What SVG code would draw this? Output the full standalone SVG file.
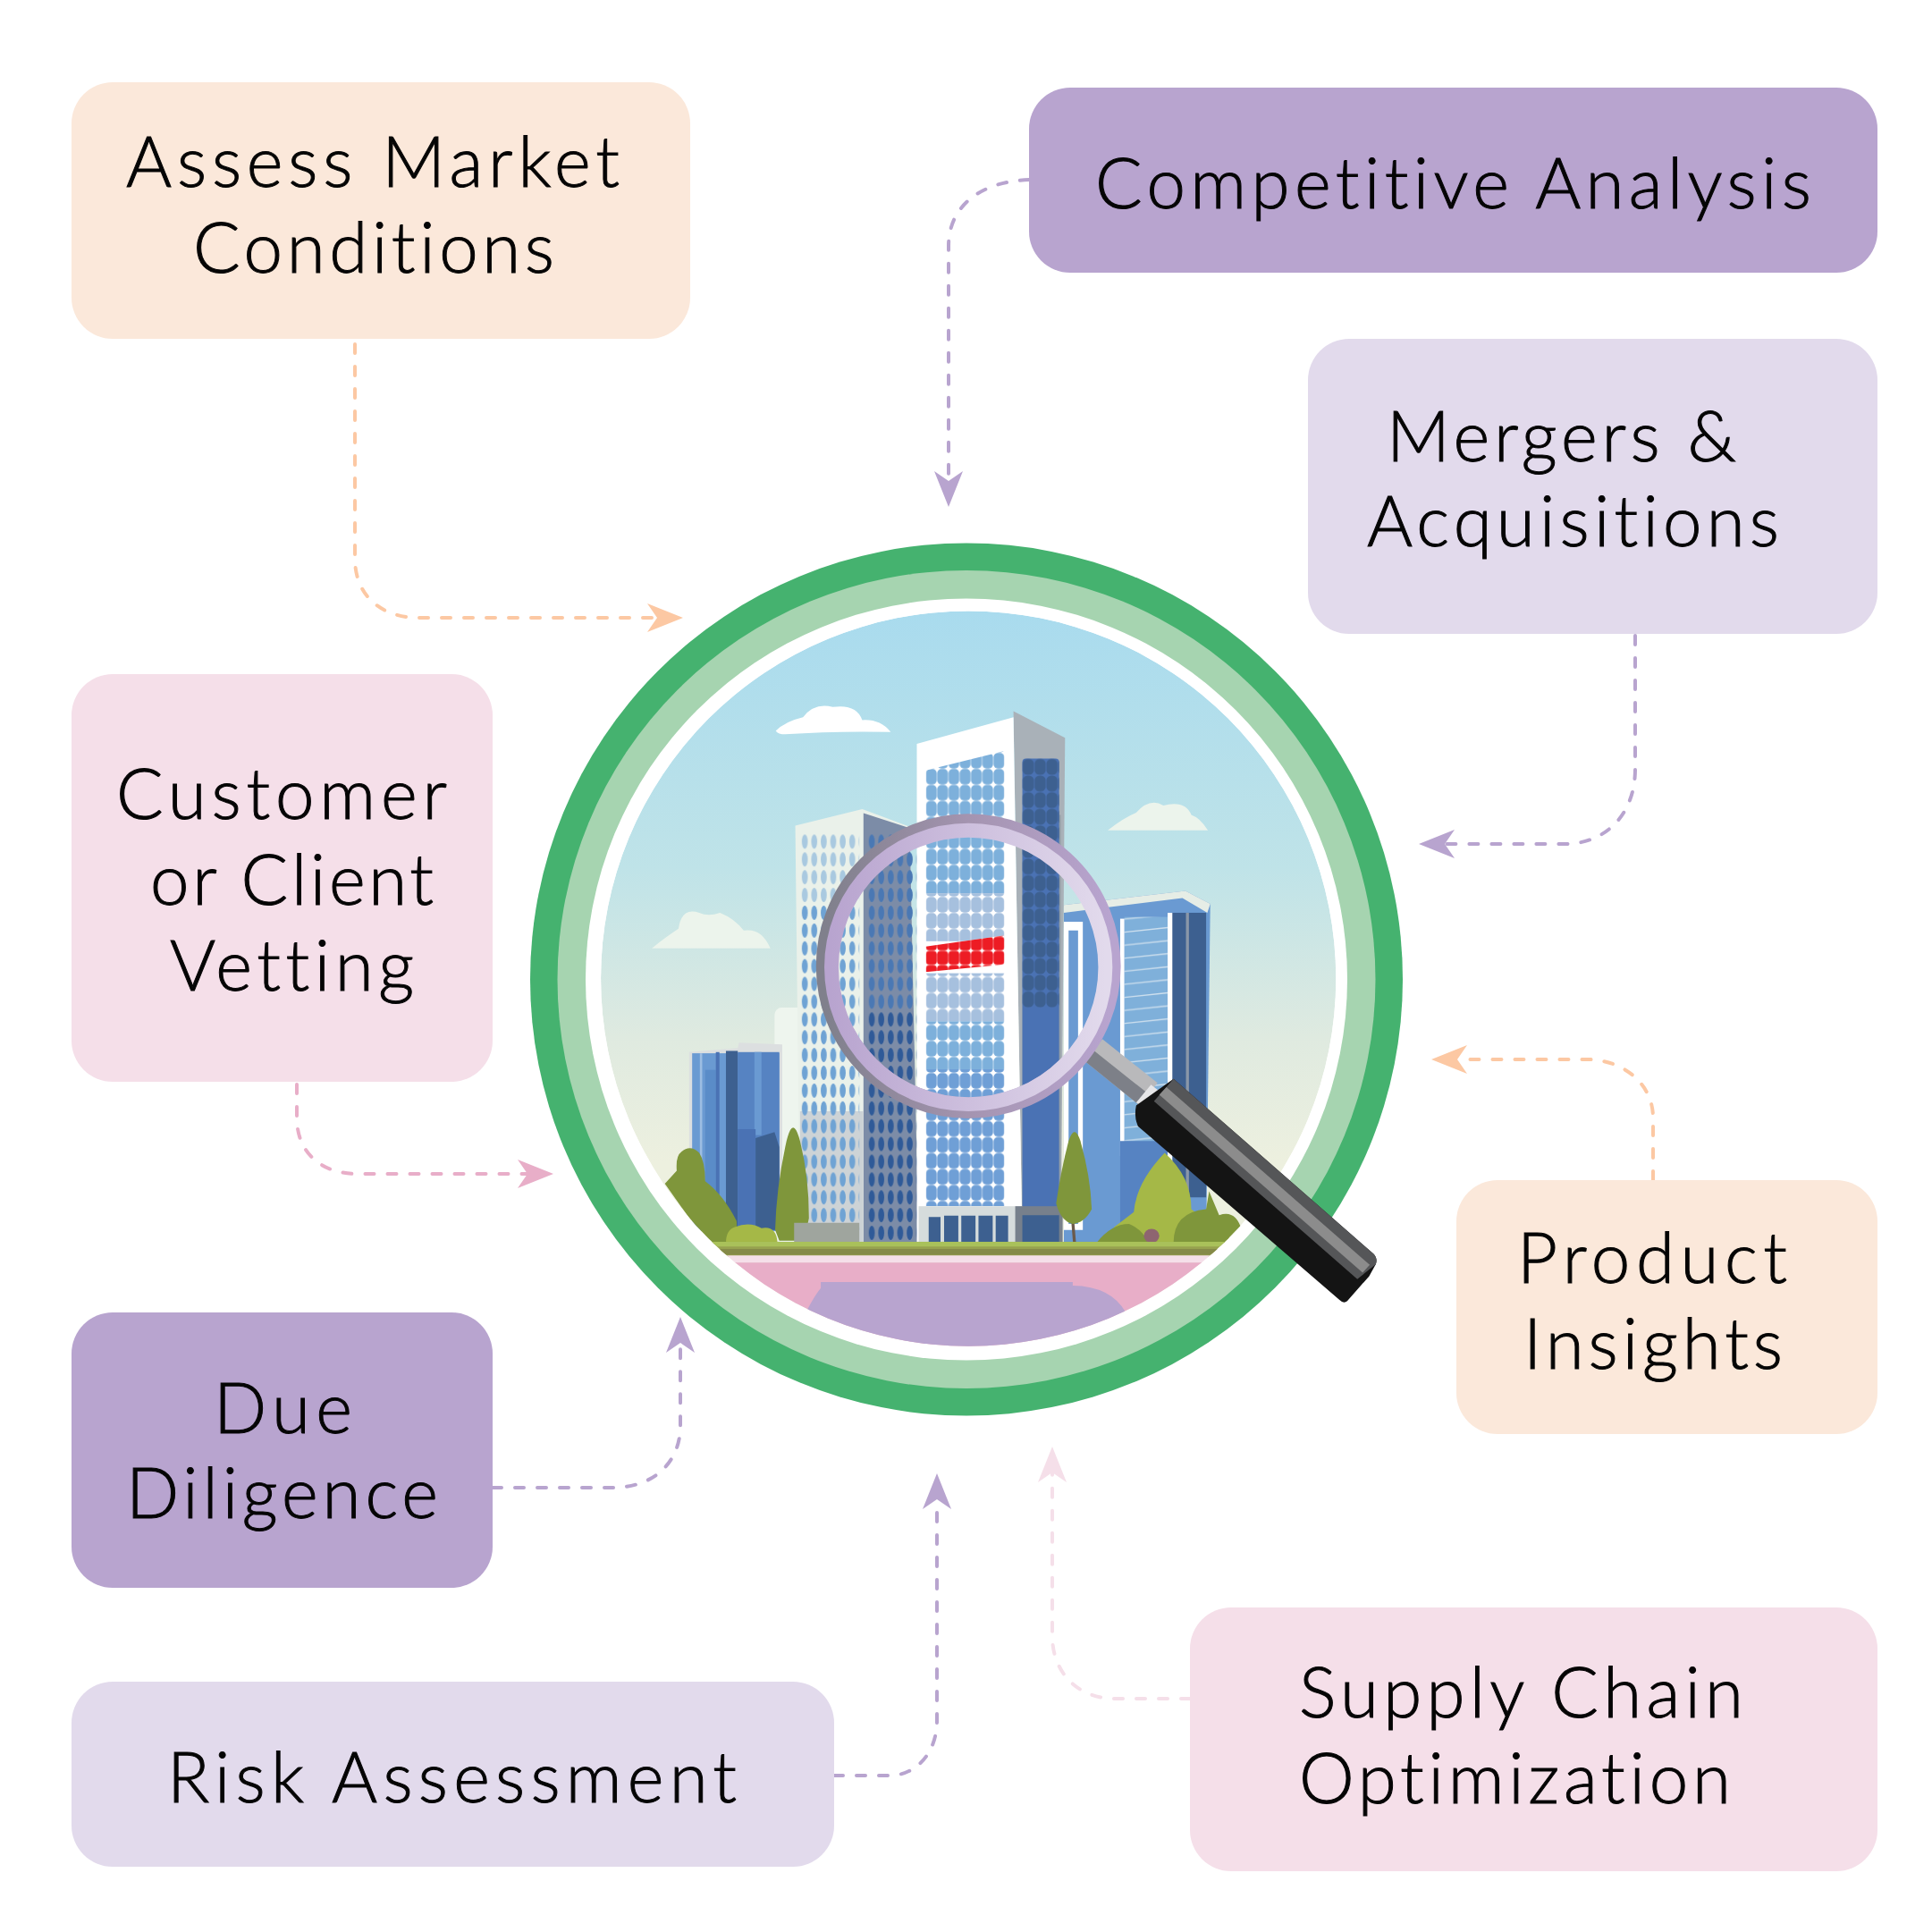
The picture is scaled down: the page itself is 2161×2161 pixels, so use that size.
<svg xmlns="http://www.w3.org/2000/svg" width="2161" height="2161" viewBox="0 0 2161 2161">
<style>
.t{font-family:"Lato","Liberation Sans",sans-serif;font-weight:300;font-size:78px;fill:#050505;stroke:#050505;stroke-width:1;font-variant-ligatures:none}
.c{fill:none;stroke-width:4;stroke-linecap:round;stroke-dasharray:10 15}
.peach{fill:#fbe8da}.purple{fill:#b8a4cf}.lav{fill:#e2daec}.pink{fill:#f5dfe9}
</style>
<defs>
<marker id="aP" markerUnits="userSpaceOnUse" markerWidth="44" markerHeight="36" viewBox="0 -18 44 36" refX="11" refY="0" orient="auto"><path d="M0-16L40 0L0 16L11 0Z" fill="#fcc8a3"/></marker>
<marker id="aV" markerUnits="userSpaceOnUse" markerWidth="44" markerHeight="36" viewBox="0 -18 44 36" refX="11" refY="0" orient="auto"><path d="M0-16L40 0L0 16L11 0Z" fill="#b8a4cf"/></marker>
<marker id="aK" markerUnits="userSpaceOnUse" markerWidth="44" markerHeight="36" viewBox="0 -18 44 36" refX="11" refY="0" orient="auto"><path d="M0-16L40 0L0 16L11 0Z" fill="#e8aec8"/></marker>
<marker id="aL" markerUnits="userSpaceOnUse" markerWidth="44" markerHeight="36" viewBox="0 -18 44 36" refX="11" refY="0" orient="auto"><path d="M0-16L40 0L0 16L11 0Z" fill="#f5dfe9"/></marker>
<linearGradient id="sky" x1="0" y1="0" x2="0" y2="1"><stop offset="0" stop-color="#a9dbee"/><stop offset=".35" stop-color="#bfe3e8"/><stop offset=".58" stop-color="#dfeae0"/><stop offset=".75" stop-color="#edf0df"/><stop offset="1" stop-color="#edf0df"/></linearGradient>
<linearGradient id="rO" x1="0" y1="0" x2="1" y2="0"><stop offset="0" stop-color="#80808c"/><stop offset=".5" stop-color="#a494b0"/><stop offset="1" stop-color="#b8a4cf"/></linearGradient>
<linearGradient id="rI" x1="0" y1="0" x2="1" y2="0"><stop offset="0" stop-color="#b8a4cf"/><stop offset="1" stop-color="#e2daec"/></linearGradient>
<clipPath id="inner"><circle cx="789" cy="776" r="620"/></clipPath>
<clipPath id="ctop"><path d="M717 425L850 392V1160H717Z"/></clipPath>
<clipPath id="red"><path d="M717 722L850 703V752L717 765Z"/></clipPath>
<pattern id="wA" patternUnits="userSpaceOnUse" x="717" y="395" width="19" height="27"><rect x=".4" y=".4" width="18.2" height="26.2" rx="7" fill="#7db0db"/></pattern>
<pattern id="wB" patternUnits="userSpaceOnUse" x="717" y="395" width="19" height="27"><rect x=".4" y=".4" width="18.2" height="26.2" rx="7" fill="#a6c0de"/></pattern>
<pattern id="wC" patternUnits="userSpaceOnUse" x="717" y="395" width="19" height="27"><rect x=".4" y=".4" width="18.2" height="26.2" rx="7" fill="#6f9fd6"/></pattern>
<pattern id="wR" patternUnits="userSpaceOnUse" x="717" y="705" width="19" height="24"><rect x=".3" y=".3" width="18.4" height="23.4" rx="6" fill="#ed1c24"/></pattern>
<pattern id="wD" patternUnits="userSpaceOnUse" x="880" y="405" width="20" height="28"><rect x=".6" y=".6" width="18.8" height="26.8" rx="8" fill="#3d6090"/></pattern>
<pattern id="eA" patternUnits="userSpaceOnUse" x="505" y="530" width="16" height="30"><ellipse cx="8" cy="15" rx="5" ry="12" fill="#6fa3d4"/></pattern>
<pattern id="eB" patternUnits="userSpaceOnUse" x="505" y="530" width="16" height="30"><ellipse cx="8" cy="15" rx="5" ry="12" fill="#a9c9e0"/></pattern>
<pattern id="eC" patternUnits="userSpaceOnUse" x="618" y="530" width="16" height="30"><ellipse cx="8" cy="15" rx="5" ry="12" fill="#2f5a98"/></pattern>
<pattern id="eD" patternUnits="userSpaceOnUse" x="618" y="530" width="16" height="30"><ellipse cx="8" cy="15" rx="5" ry="12" fill="#4a78b4"/></pattern>
<pattern id="st" patternUnits="userSpaceOnUse" width="75" height="22"><path d="M0 16L75 8" stroke="#cfe0ee" stroke-width="2"/></pattern>
</defs>
<rect width="2161" height="2161" fill="#fff"/>

<g id="connectors">
<path class="c" stroke="#fcc8a3" marker-end="url(#aP)" d="M397 385V625C397 665 425 691 469 691H735"/>
<path class="c" stroke="#b8a4cf" marker-end="url(#aV)" d="M1151 201C1095 203 1061 232 1061 275V538"/>
<path class="c" stroke="#b8a4cf" marker-end="url(#aV)" d="M1829 711V860C1829 912 1795 944 1750 944H1616"/>
<path class="c" stroke="#fcc8a3" marker-end="url(#aP)" d="M1849 1320V1250C1849 1212 1815 1185 1775 1185H1630"/>
<path class="c" stroke="#f5dfe9" marker-end="url(#aL)" d="M1331 1900H1247C1205 1900 1177 1870 1177 1830V1647"/>
<path class="c" stroke="#b8a4cf" marker-end="url(#aV)" d="M933 1986H995C1025 1986 1048 1960 1048 1925V1677"/>
<path class="c" stroke="#b8a4cf" marker-end="url(#aV)" d="M551 1664H685C732 1664 761 1635 761 1595V1502"/>
<path class="c" stroke="#e8aec8" marker-end="url(#aK)" d="M332 1213V1250C332 1290 360 1313 400 1313H590"/>
</g>

<g id="node-assess"><rect class="peach" x="80" y="92" width="692" height="287" rx="46"/>
<text class="t" x="141" y="209" textLength="552">Assess Market</text><text class="t" x="216" y="305" textLength="404">Conditions</text></g>
<g id="node-competitive"><rect class="purple" x="1151" y="98" width="949" height="207" rx="46"/>
<text class="t" x="1225" y="233" textLength="801">Competitive Analysis</text></g>
<g id="node-mergers"><rect class="lav" x="1463" y="379" width="637" height="330" rx="46"/>
<text class="t" x="1551" y="516" textLength="391">Mergers &amp;</text><text class="t" x="1529" y="611" textLength="461">Acquisitions</text></g>
<g id="node-customer"><rect class="pink" x="80" y="754" width="471" height="456" rx="46"/>
<text class="t" x="130" y="916" textLength="370">Customer</text><text class="t" x="168" y="1012" textLength="317">or Client</text><text class="t" x="190" y="1108" textLength="273">Vetting</text></g>
<g id="node-due"><rect class="purple" x="80" y="1468" width="471" height="308" rx="46"/>
<text class="t" x="239" y="1603" textLength="155">Due</text><text class="t" x="141" y="1698" textLength="349">Diligence</text></g>
<g id="node-risk"><rect class="lav" x="80" y="1881" width="853" height="207" rx="46"/>
<text class="t" x="187" y="2016" textLength="637">Risk Assessment</text></g>
<g id="node-supply"><rect class="pink" x="1331" y="1798" width="769" height="295" rx="46"/>
<text class="t" x="1453" y="1921" textLength="497">Supply Chain</text><text class="t" x="1453" y="2017" textLength="483">Optimization</text></g>
<g id="node-product"><rect class="peach" x="1629" y="1320" width="471" height="284" rx="46"/>
<text class="t" x="1697" y="1435" textLength="302">Product</text><text class="t" x="1704" y="1531" textLength="290">Insights</text></g>

<g id="node-center">
<circle cx="1081" cy="1095.5" r="488" fill="#45b26f"/>
<circle cx="1081" cy="1095.5" r="457.5" fill="#a6d4b0"/>
<circle cx="1081" cy="1095.5" r="426" fill="#fff"/>
<g transform="translate(560 580) scale(.6631)">
<g clip-path="url(#inner)">
<circle cx="789" cy="776" r="620" fill="url(#sky)"/>
<path d="M464 358Q480 342 510 335Q530 310 560 318Q600 312 610 340Q640 338 658 360Q560 358 480 364Q468 364 464 358Z" fill="#fff"/>
<path d="M1024 526Q1050 505 1072 496Q1095 470 1118 484Q1155 475 1165 500Q1180 505 1193 526Z" fill="#ecf4ec"/>
<path d="M255 725Q280 705 300 692Q305 655 335 665Q350 672 370 665Q395 675 410 695Q440 690 455 725Z" fill="#ecf4ec"/>
<rect x="462" y="825" width="50" height="395" rx="12" fill="#eef5ee"/>
<path d="M318 900L400 893L402 884L475 887V1195H318Z" fill="#dcdfe0"/>
<rect x="323" y="902" width="147" height="300" fill="#6a9ad2"/>
<rect x="345" y="930" width="18" height="270" fill="#5a8cc8"/>
<rect x="336" y="902" width="4" height="298" fill="#9dbde2"/>
<rect x="363" y="900" width="6" height="300" fill="#4a72b4"/>
<rect x="380" y="898" width="20" height="300" fill="#3d6090"/>
<rect x="400" y="900" width="70" height="300" fill="#5683c2"/>
<rect x="428" y="900" width="12" height="140" fill="#6a9ad2"/>
<rect x="400" y="1030" width="30" height="170" fill="#4a72b4"/>
<path d="M430 1045L462 1035L470 1060V1200H430Z" fill="#3d6090"/>
<path d="M497 518L610 490L690 520L705 1222H505Z" fill="#eaf1ea"/>
<path d="M612 497L690 522L705 1222H612Z" fill="#7c8ca7"/>
<path d="M505 1000H612V1222H505Z" fill="#cdd3d6"/>
<rect x="505" y="530" width="100" height="120" fill="url(#eB)"/>
<rect x="505" y="650" width="100" height="550" fill="url(#eA)"/>
<rect x="618" y="530" width="84" height="300" fill="url(#eD)"/>
<rect x="618" y="830" width="84" height="392" fill="url(#eC)"/>
<path d="M950 652L1155 628L1197 650L1190 1225H950Z" fill="#6a9ad2"/>
<path d="M950 652L1155 628L1197 650L1192 665L1150 640L950 665Z" fill="#e6ede6"/>
<rect x="1125" y="665" width="65" height="480" fill="#3d6090"/>
<rect x="1125" y="665" width="8" height="480" fill="#fff"/>
<rect x="1156" y="665" width="5" height="480" fill="#8a97a8"/>
<rect x="1052" y="672" width="73" height="380" fill="#7fb0da"/>
<rect x="1052" y="672" width="73" height="380" fill="url(#st)"/>
<rect x="1045" y="675" width="7" height="400" fill="#fff"/>
<path d="M950 680H982V1200L950 1200ZM958 695V1190H974V695Z" fill="#fff"/>
<rect x="1045" y="1050" width="80" height="175" fill="#5683c2"/>
<path d="M865 325L952 370L945 1225H880Z" fill="#a9b1b8"/>
<path d="M880 500L945 500L945 1225H880Z" fill="#94a0a8"/>
<path d="M702 380L865 335L880 1225H702Z" fill="#fff"/>
<rect x="880" y="405" width="62" height="820" rx="6" fill="#4a72b4"/>
<rect x="880" y="405" width="62" height="420" fill="url(#wD)"/>
<g clip-path="url(#ctop)">
<rect x="717" y="392" width="133" height="240" fill="url(#wA)"/>
<rect x="717" y="632" width="133" height="81" fill="url(#wB)"/>
<rect x="717" y="767" width="133" height="81" fill="url(#wB)"/>
<rect x="717" y="848" width="133" height="81" fill="url(#wA)"/>
<rect x="717" y="929" width="133" height="231" fill="url(#wC)"/>
</g>
<g clip-path="url(#red)"><rect x="710" y="700" width="145" height="70" fill="#fff"/><rect x="717" y="700" width="133" height="70" fill="url(#wR)"/></g>
<rect x="705" y="1160" width="175" height="65" fill="#d6dcdc"/>
<rect x="868" y="1160" width="80" height="65" fill="#77808c"/>
<path d="M722 1178h20v47h-20zM748 1176h24v49h-24zM777 1176h24v49h-24zM806 1176h24v49h-24zM835 1176h21v49h-21zM880 1175h62v50h-62z" fill="#3d6090"/>
<path d="M277 1122L297 1100Q295 1075 305 1068Q320 1055 335 1070Q345 1085 345 1118Q375 1140 398 1185L400 1225H350Z" fill="#7f963b"/>
<path d="M463 1200Q465 1130 480 1060Q492 1000 505 1050Q520 1110 520 1180L512 1218L470 1218Z" fill="#7f963b"/>
<path d="M380 1222Q380 1200 395 1195Q420 1185 440 1197Q465 1192 467 1222Z" fill="#a5b847"/>
<rect x="495" y="1188" width="110" height="32" fill="#9fa59e"/>
<path d="M965 1185L968 1222" stroke="#6b5a4a" stroke-width="5"/>
<path d="M937 1155Q945 1100 958 1050Q968 1020 978 1050Q995 1110 997 1165Q985 1188 965 1190Q945 1185 937 1155Z" fill="#7f963b"/>
<path d="M1035 1195L1068 1170Q1072 1120 1120 1070Q1165 1110 1165 1165L1240 1222H1035Z" fill="#a5b847"/>
<path d="M1005 1222Q1030 1190 1060 1190Q1085 1200 1092 1222Z" fill="#7f963b"/>
<path d="M1135 1222Q1135 1170 1190 1165L1195 1135L1212 1175Q1240 1165 1250 1200L1240 1222Z" fill="#7f963b"/>
<ellipse cx="1098" cy="1210" rx="13" ry="12" fill="#8e6570"/>
<rect x="100" y="1220" width="1400" height="25" fill="#97a24f"/>
<rect x="100" y="1220" width="1400" height="8" fill="#a9c15a"/>
<path d="M370 1232H1215V1242H370Z" fill="#858a48"/>
<rect x="100" y="1243" width="1400" height="12" fill="#f5dfe9"/>
<rect x="100" y="1255" width="1400" height="170" fill="#e8aec8"/>
<path d="M500 1425L517 1335Q530 1310 540 1298V1288L965 1288V1294Q1030 1295 1055 1340L1075 1425Z" fill="#b8a4cf"/>
</g>
<path d="M1015 878L1108 952L1078 990L985 915Z" fill="#b9b9bb"/>
<path d="M1000 897L1093 971L1078 990L985 915Z" fill="#7d8088"/>
<path d="M1097 955L1110 965L1085 993L1072 985Z" fill="#e6e6e8"/>
<path d="M1135 945L1472 1240Q1480 1248 1476 1258L1465 1278L1428 1320Q1422 1325 1415 1318L1075 1025Q1068 1010 1072 990Z" fill="#141414"/>
<path d="M1135 945L1472 1240Q1480 1248 1476 1258L1445 1283L1102 983Z" fill="#555658"/>
<path d="M1123 959L1466 1259L1454 1272L1111 972Z" fill="#8c8c8c"/>
<circle cx="789" cy="755" r="239" fill="none" stroke="url(#rO)" stroke-width="36"/>
<circle cx="789" cy="757" r="231" fill="none" stroke="url(#rI)" stroke-width="24"/>
</g>
</g>
</svg>
